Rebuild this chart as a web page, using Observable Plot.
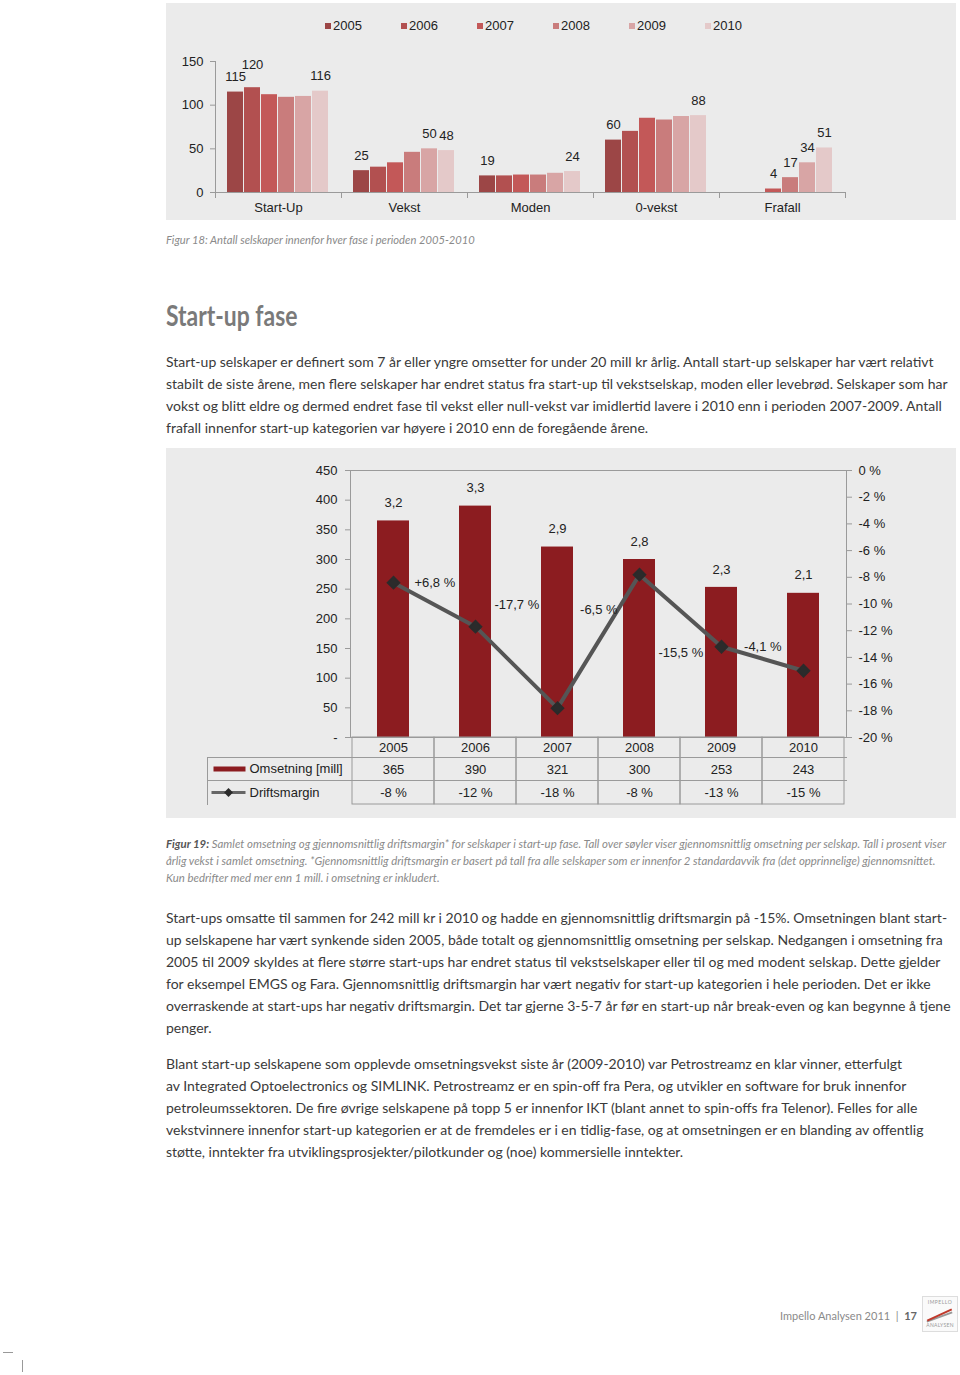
<!DOCTYPE html>
<html><head><meta charset="utf-8">
<script src="https://cdn.jsdelivr.net/npm/d3@7"></script>
<script src="https://cdn.jsdelivr.net/npm/@observablehq/plot@0.6"></script>
<style>
body{margin:0;background:#fff;width:960px;height:1375px;position:relative;overflow:hidden;font-family:Lato,"Noto Sans",sans-serif;}
.panel{position:absolute;background:#ebebeb;}
.abs{position:absolute;}
.legend{position:absolute;left:325px;top:18px;font-family:"Liberation Sans",Arial,sans-serif;font-size:13px;color:#222;white-space:nowrap;}
.legend span.item{display:inline-block;width:76px;}
.legend i{display:inline-block;width:6px;height:6px;margin-right:2px;vertical-align:1px;}
.cap{position:absolute;left:166px;font-style:italic;color:#8a8a8a;white-space:nowrap;font-family:Lato,sans-serif;}
.cap b{color:#555;font-weight:700;}
h2{position:absolute;left:166px;top:297px;margin:0;font-family:Lato,sans-serif;font-weight:700;font-size:29px;color:#7a7a7a;transform:scaleX(0.79);transform-origin:0 0;white-space:nowrap;}
.para{position:absolute;left:166px;font-size:14px;line-height:22px;color:#3a3a3a;white-space:nowrap;}
.footer{position:absolute;left:780px;top:1309px;font-size:11px;color:#8a8a8a;white-space:nowrap;}
.footer b{color:#666;}
</style></head><body>

<div class="panel" style="left:166px;top:3px;width:790px;height:217px;"></div>
<div class="legend" id="legend1"></div>
<div class="abs" id="chart1" style="left:166px;top:45px;"></div>
<div class="cap" style="top:233px;font-size:11.2px;">Figur 18: Antall selskaper innenfor hver fase i perioden 2005-2010</div>

<h2>Start-up fase</h2>
<div class="para" style="top:351px;">
Start-up selskaper er definert som 7 år eller yngre omsetter for under 20 mill kr årlig. Antall start-up selskaper har vært relativt<br>
stabilt de siste årene, men flere selskaper har endret status fra start-up til vekstselskap, moden eller levebrød. Selskaper som har<br>
vokst og blitt eldre og dermed endret fase til vekst eller null-vekst var imidlertid lavere i 2010 enn i perioden 2007-2009. Antall<br>
frafall innenfor start-up kategorien var høyere i 2010 enn de foregående årene.
</div>

<div class="panel" style="left:166px;top:448px;width:790px;height:370px;"></div>
<div class="abs" id="chart2" style="left:166px;top:452px;"></div>

<div class="cap" style="top:835px;line-height:17px;font-size:11.4px;">
<b>Figur 19:</b> Samlet omsetning og gjennomsnittlig driftsmargin* for selskaper i start-up fase. Tall over søyler viser gjennomsnittlig omsetning per selskap. Tall i prosent viser<br>
årlig vekst i samlet omsetning. *Gjennomsnittlig driftsmargin er basert på tall fra alle selskaper som er innenfor 2 standardavvik fra (det opprinnelige) gjennomsnittet.<br>
Kun bedrifter med mer enn 1 mill. i omsetning er inkludert.
</div>

<div class="para" style="top:907px;">
Start-ups omsatte til sammen for 242 mill kr i 2010 og hadde en gjennomsnittlig driftsmargin på -15%. Omsetningen blant start-<br>
up selskapene har vært synkende siden 2005, både totalt og gjennomsnittlig omsetning per selskap. Nedgangen i omsetning fra<br>
2005 til 2009 skyldes at flere større start-ups har endret status til vekstselskaper eller til og med modent selskap. Dette gjelder<br>
for eksempel EMGS og Fara. Gjennomsnittlig driftsmargin har vært negativ for start-up kategorien i hele perioden. Det er ikke<br>
overraskende at start-ups har negativ driftsmargin. Det tar gjerne 3-5-7 år før en start-up når break-even og kan begynne å tjene<br>
penger.
</div>

<div class="para" style="top:1053px;">
Blant start-up selskapene som opplevde omsetningsvekst siste år (2009-2010) var Petrostreamz en klar vinner, etterfulgt<br>
av Integrated Optoelectronics og SIMLINK. Petrostreamz er en spin-off fra Pera, og utvikler en software for bruk innenfor<br>
petroleumssektoren. De fire øvrige selskapene på topp 5 er innenfor IKT (blant annet to spin-offs fra Telenor). Felles for alle<br>
vekstvinnere innenfor start-up kategorien er at de fremdeles er i en tidlig-fase, og at omsetningen er en blanding av offentlig<br>
støtte, inntekter fra utviklingsprosjekter/pilotkunder og (noe) kommersielle inntekter.
</div>

<div class="footer">Impello Analysen 2011 &nbsp;|&nbsp; <b>17</b></div>
<div class="abs" style="left:922px;top:1296px;width:34px;height:34px;border:1px solid #ddd;background:#fafafa;font-size:5px;color:#999;text-align:center;line-height:7px;">
<div style="margin-top:2px;letter-spacing:0.5px;">IMPELLO</div>
<div style="height:16px;position:relative;">
<div style="position:absolute;left:3px;top:10px;width:27px;height:2px;background:#999;transform:rotate(-20deg);"></div>
<div style="position:absolute;left:3px;top:8px;width:27px;height:2px;background:#c0392b;transform:rotate(-25deg);"></div>
</div>
<div style="letter-spacing:0.3px;">ANALYSEN</div>
</div>
<div class="abs" style="left:3px;top:1352px;width:10px;height:1px;background:#999;"></div>
<div class="abs" style="left:22px;top:1360px;width:1px;height:12px;background:#999;"></div>

<script>
// ---------- Chart 1 data ----------
const phases = ["Start-Up", "Vekst", "Moden", "0-vekst", "Frafall"];
const years = [2005, 2006, 2007, 2008, 2009, 2010];
const startUp   = [115, 120, 112, 109, 110, 116];
const vekst     = [25, 29, 34, 46, 50, 48];
const moden     = [19, 19, 20, 20, 22, 24];
const nullVekst = [60, 70, 85, 83, 87, 88];
const frafall   = [0, 0, 4, 17, 34, 51];
const phaseLabelYears = [[2005, 2006, 2010], [2005, 2009, 2010], [2005, 2010], [2005, 2010], [2007, 2008, 2009, 2010]];
const raisedLabels = [["Start-Up", 2006]];
const yearColors = ["#9c4646", "#b25050", "#c35858", "#c97c7c", "#d8a5a5", "#e4c9c9"];

// ---------- Chart 2 data ----------
const omsetning = [365, 390, 321, 300, 253, 243];
const perCompany = ["3,2", "3,3", "2,9", "2,8", "2,3", "2,1"];
const driftsmargin = [-8.4, -11.7, -17.8, -7.8, -13.2, -15.0];
const marginTableLabels = ["-8 %", "-12 %", "-18 %", "-8 %", "-13 %", "-15 %"];
const growthLabels = ["+6,8 %", "-17,7 %", "-6,5 %", "-15,5 %", "-4,1 %"];
const growthLabelAnchor = [260, 224, 216, 143, 153];
const leftTicks = [0, 50, 100, 150, 200, 250, 300, 350, 400, 450];
const pctTicks = [0, -2, -4, -6, -8, -10, -12, -14, -16, -18, -20];
const rowNames = ["Omsetning [mill]", "Driftsmargin"];

const font = "'Liberation Sans', Arial, sans-serif";
const axisGray = "#9a9a9a";

// legend 1
const leg = document.getElementById("legend1");
years.forEach((y, i) => {
  const s = document.createElement("span");
  s.className = "item";
  s.innerHTML = `<i style="background:${yearColors[i]}"></i>${y}`;
  leg.appendChild(s);
});

const series = [startUp, vekst, moden, nullVekst, frafall];
const rows1 = [];
series.forEach((vals, i) => years.forEach((yr, j) => rows1.push({
  phase: phases[i], year: yr, value: vals[j],
  shown: phaseLabelYears[i].includes(yr),
  raised: raisedLabels.some(([p, y]) => p === phases[i] && y === yr)
})));

const chart1 = Plot.plot({
  width: 790, height: 175,
  marginLeft: 47, marginRight: 110, marginTop: 16, marginBottom: 28,
  style: {fontFamily: font, fontSize: "13px", background: "transparent", color: "#222"},
  fx: {domain: phases, padding: 0, label: null},
  x: {domain: years, paddingInner: 0.05, paddingOuter: 0.7, axis: null},
  y: {domain: [0, 150], axis: null},
  color: {domain: years, range: yearColors},
  marks: [
    Plot.barY(rows1, {fx: "phase", x: "year", y: "value", fill: "year"}),
    Plot.ruleY([0], {stroke: axisGray}),
    Plot.frame({anchor: "left", facetAnchor: "left", stroke: axisGray}),
    Plot.frame({anchor: "left", insetTop: 131, insetBottom: -5, stroke: axisGray}),
    Plot.frame({anchor: "right", facetAnchor: "right", insetTop: 131, insetBottom: -5, stroke: axisGray}),
    Plot.axisY({ticks: [0, 50, 100, 150], tickSize: 5, tickPadding: 7, label: null, stroke: axisGray, fill: "#222", fontSize: 13}),
    Plot.axisFx({anchor: "bottom", tickSize: 0, tickPadding: 10, label: null, fontSize: 13}),
    Plot.text(rows1.filter(d => d.shown && !d.raised), {fx: "phase", x: "year", y: "value", text: d => String(d.value), dy: -15, fontSize: 13, fill: "#222"}),
    Plot.text(rows1.filter(d => d.shown && d.raised), {fx: "phase", x: "year", y: "value", text: d => String(d.value), dy: -23, fontSize: 13, fill: "#222"})
  ]
});
document.getElementById("chart1").appendChild(chart1);

// ---------- Chart 2 ----------
const pctToY = p => (p + 20) / 20 * 450;
const yearRows = years.map((y, i) => ({year: y, omsetning: omsetning[i], per: perCompany[i], margin: driftsmargin[i], mlabel: marginTableLabels[i]}));
const growthRows = growthLabels.map((t, i) => ({year: years[i], label: t, anchor: growthLabelAnchor[i]}));
const halfStep = (790 - 184 - 110) / years.length / 2;

const chart2 = Plot.plot({
  width: 790, height: 364,
  marginLeft: 184, marginRight: 110, marginTop: 18, marginBottom: 79,
  style: {fontFamily: font, fontSize: "13px", background: "transparent", color: "#222"},
  x: {domain: years, padding: 0, axis: null},
  y: {domain: [0, 450], axis: null},
  marks: [
    Plot.barY(yearRows, {x: "year", y: "omsetning", fill: "#8c1c20", insetLeft: 25, insetRight: 25}),
    Plot.frame({stroke: axisGray}),
    Plot.axisY({anchor: "left", ticks: leftTicks, tickFormat: d => d === 0 ? "-" : String(d), tickSize: 5, tickPadding: 8, label: null, stroke: axisGray, fill: "#222", fontSize: 13}),
    Plot.axisY({anchor: "right", ticks: pctTicks.map(pctToY), tickFormat: v => `${Math.round(v / 450 * 20 - 20)} %`, tickSize: 5, tickPadding: 7, label: null, stroke: axisGray, fill: "#222", fontSize: 13}),
    Plot.line(yearRows, {x: "year", y: d => pctToY(d.margin), stroke: "#555", strokeWidth: 4}),
    Plot.dot(yearRows, {x: "year", y: d => pctToY(d.margin), symbol: "diamond2", r: 5.5, fill: "#2b2b2b", stroke: "#2b2b2b"}),
    Plot.text(yearRows, {x: "year", y: "omsetning", text: "per", dy: -18, fontSize: 13}),
    Plot.text(growthRows, {x: "year", y: "anchor", text: "label", dx: halfStep, fontSize: 13}),
    // data table below the plot
    Plot.cell(years, {x: d => d, fill: "none", stroke: axisGray, insetTop: 267, insetBottom: -67}),
    Plot.frame({anchor: "bottom", insetBottom: -20, insetLeft: -143, stroke: axisGray}),
    Plot.frame({anchor: "bottom", insetBottom: -43, insetLeft: -143, stroke: axisGray}),
    Plot.frame({anchor: "left", insetLeft: -143, insetTop: 287, insetBottom: -67, stroke: axisGray}),
    Plot.text(years, {x: d => d, frameAnchor: "bottom", lineAnchor: "middle", dy: 10, text: d => String(d), fontSize: 13}),
    Plot.text(yearRows, {x: "year", frameAnchor: "bottom", lineAnchor: "middle", dy: 32, text: d => String(d.omsetning), fontSize: 13}),
    Plot.text(yearRows, {x: "year", frameAnchor: "bottom", lineAnchor: "middle", dy: 55, text: "mlabel", fontSize: 13}),
    Plot.text([rowNames[0]], {frameAnchor: "bottom-left", lineAnchor: "middle", dx: -101, dy: 31, text: d => d, textAnchor: "start", fontSize: 13}),
    Plot.text([rowNames[1]], {frameAnchor: "bottom-left", lineAnchor: "middle", dx: -101, dy: 55, text: d => d, textAnchor: "start", fontSize: 13}),
    Plot.frame({fill: "#8c1c20", stroke: null, insetLeft: -137, insetRight: 601, insetTop: 296, insetBottom: -34}),
    Plot.frame({fill: "#666", stroke: null, insetLeft: -139, insetRight: 601, insetTop: 320.5, insetBottom: -56.5}),
    Plot.dot([rowNames[1]], {frameAnchor: "bottom-left", dx: -122, dy: 55, symbol: "diamond2", r: 4, fill: "#2b2b2b"})
  ]
});
document.getElementById("chart2").appendChild(chart2);
</script>
</body></html>
